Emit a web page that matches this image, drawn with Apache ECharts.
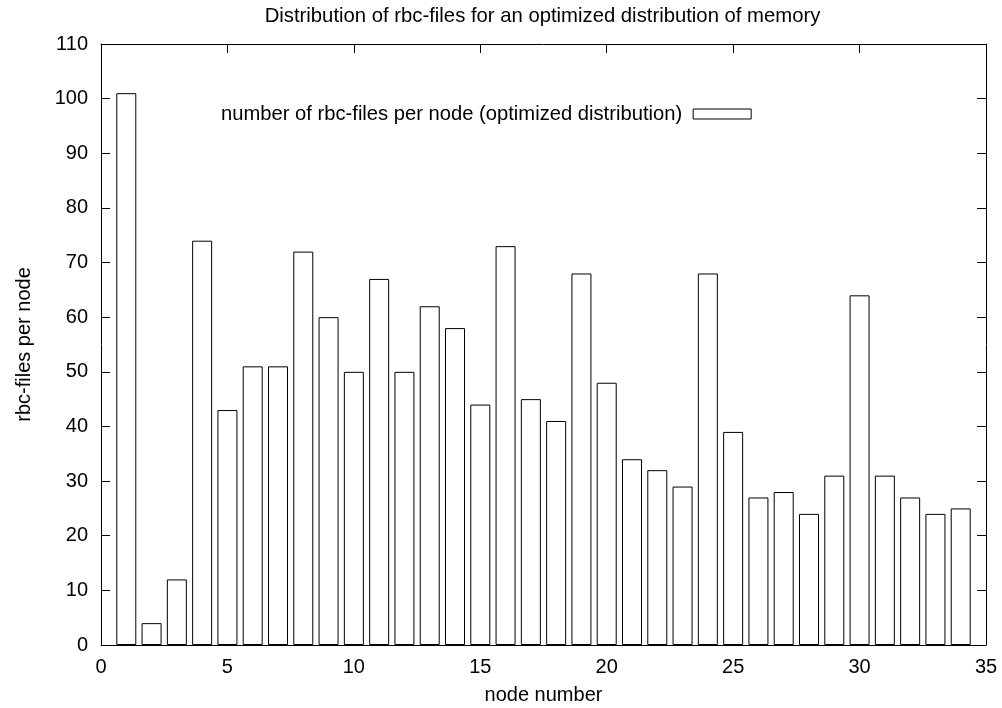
<!DOCTYPE html>
<html>
<head>
<meta charset="utf-8">
<script src="https://cdn.jsdelivr.net/npm/echarts@6/dist/echarts.min.js"></script>
<style>
  html, body { margin: 0; padding: 0; background: #fff; }
  #chart { width: 1002px; height: 708px; }
</style>
</head>
<body>
<div id="chart"></div>
<script>
// Node numbers and the count of rbc-files held by each node
const nodes = [1, 2, 3, 4, 5, 6, 7, 8, 9, 10, 11, 12, 13, 14, 15, 16, 17,
               18, 19, 20, 21, 22, 23, 24, 25, 26, 27, 28, 29, 30, 31, 32, 33, 34];
const filesPerNode = [101, 4, 12, 74, 43, 51, 51, 72, 60, 50, 67, 50, 62, 58, 44, 73, 45,
                      41, 68, 48, 34, 32, 29, 68, 39, 27, 28, 24, 31, 64, 31, 27, 24, 25];

const xRange = { min: 0, max: 35, interval: 5 };
const yRange = { min: 0, max: 110, interval: 10 };

const FONT = '"Liberation Sans", Arial, Helvetica, sans-serif';
const INK = '#000';

const seriesName = 'number of rbc-files per node (optimized distribution)';

// Plot frame edges in pixels
const PLOT = { left: 101, right: 16, top: 44, bottom: 63 };
const plotCenterX = (PLOT.left + (1002 - PLOT.right)) / 2;

// Shared look of the four sides of the plot frame: inward ticks, no grid lines
function frameAxis(base, extra) {
  return Object.assign({
    min: base.min, max: base.max, interval: base.interval,
    type: 'value',
    axisLine: { show: true, onZero: false, lineStyle: { color: INK, width: 1 } },
    axisTick: { show: true, inside: true, length: 9, lineStyle: { color: INK, width: 1 } },
    splitLine: { show: false },
    axisLabel: { show: false }
  }, extra);
}

const chart = echarts.init(document.getElementById('chart'), null, { renderer: 'canvas' });

chart.setOption({
  backgroundColor: '#fff',
  animation: false,
  textStyle: { fontFamily: FONT, color: INK },
  title: {
    text: 'Distribution of rbc-files for an optimized distribution of memory',
    left: plotCenterX - 6,
    textAlign: 'center',
    top: 1,
    textStyle: { fontFamily: FONT, fontSize: 20.3, fontWeight: 'normal', color: INK }
  },
  legend: {
    data: [seriesName],
    left: 216,
    top: 99,
    align: 'right',
    icon: 'rect',
    itemWidth: 58,
    itemHeight: 10,
    textStyle: { fontFamily: FONT, fontSize: 20.2, color: INK, padding: [0, 6, 0, 0] },
    itemStyle: { color: '#fff', borderColor: INK, borderWidth: 1 }
  },
  grid: {
    left: PLOT.left, right: PLOT.right, top: PLOT.top, bottom: PLOT.bottom,
    containLabel: false,
    outerBoundsMode: 'none'
  },
  xAxis: [
    frameAxis(xRange, {
      position: 'bottom',
      name: 'node number',
      nameLocation: 'middle',
      nameGap: 40,
      nameTextStyle: { fontFamily: FONT, fontSize: 20, color: INK },
      axisLabel: { show: true, margin: 12, fontFamily: FONT, fontSize: 20, color: INK }
    }),
    frameAxis(xRange, { position: 'top' })
  ],
  yAxis: [
    frameAxis(yRange, {
      position: 'left',
      name: 'rbc-files per node',
      nameLocation: 'middle',
      nameGap: 67,
      nameTextStyle: { fontFamily: FONT, fontSize: 20, color: INK },
      axisLabel: { show: true, margin: 13, fontFamily: FONT, fontSize: 20, color: INK }
    }),
    frameAxis(yRange, { position: 'right' })
  ],
  series: [{
    name: seriesName,
    type: 'bar',
    xAxisIndex: 0,
    yAxisIndex: 0,
    barWidth: 20,
    data: nodes.map((n, i) => [n, filesPerNode[i]]),
    itemStyle: { color: '#fff', borderColor: INK, borderWidth: 1 },
    emphasis: { disabled: true }
  }]
});
</script>
</body>
</html>
